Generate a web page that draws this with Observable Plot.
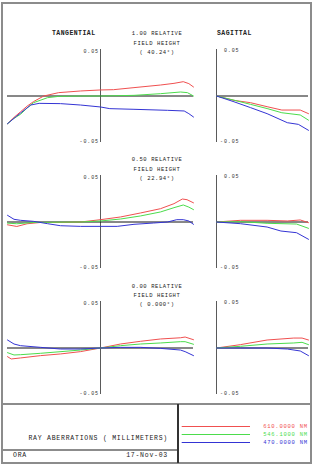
<!DOCTYPE html>
<html>
<head>
<meta charset="utf-8">
<script src="https://cdn.jsdelivr.net/npm/d3@7"></script>
<script src="https://cdn.jsdelivr.net/npm/@observablehq/plot@0.6"></script>
<style>
  body { margin: 0; background: #fff; }
  #page { position: relative; width: 313px; height: 476px; overflow: hidden;
          font-family: "Liberation Mono", "DejaVu Sans Mono", monospace; color: #222; }
  .box { position: absolute; box-sizing: border-box; }
  .lbl { position: absolute; white-space: nowrap; line-height: 1; }
  .panel text { letter-spacing: 0.9px; }
  .legend text { letter-spacing: 0.75px; }
</style>
</head>
<body>
<div id="page"></div>
<script>
// Wavelengths and their plotting colours
const wavelengths = ["610.0000 NM", "546.1000 NM", "470.0000 NM"];
const waveColors = ["#f05050", "#4cdc4c", "#3434d4"];

// Field points
const fieldRelative = ["1.00", "0.50", "0.00"];
const fieldAngle = ["40.24", "22.94", "0.000"];

// Vertical scale tick labels (mm)
const yTicks = [0.05, -0.05];
const yTickLabels = ["0.05", "-0.05"];

// Tangential ray fans: [relative pupil coordinate, transverse ray error in mm]
const tan100Red = [[-1,-0.0298],[-0.93,-0.023],[-0.86,-0.017],[-0.79,-0.011],[-0.72,-0.006],[-0.61,0],[-0.45,0.0036],[-0.215,0.0054],[0,0.0065],[0.14,0.0068],[0.36,0.009],[0.645,0.0118],[0.79,0.0136],[0.89,0.0154],[0.95,0.0133],[1,0.0097]];
const tan100Green = [[-1,-0.0298],[-0.93,-0.024],[-0.86,-0.0197],[-0.79,-0.013],[-0.72,-0.0072],[-0.57,-0.0018],[-0.45,-0.0004],[-0.2,0],[0,0],[0.36,0.0007],[0.645,0.0025],[0.86,0.0043],[0.935,0.0036],[1,0]];
const tan100Blue = [[-1,-0.0298],[-0.9,-0.0215],[-0.75,-0.0097],[-0.66,-0.0079],[-0.43,-0.0082],[-0.215,-0.0097],[0,-0.0118],[0.1,-0.0136],[0.36,-0.0143],[0.72,-0.0154],[0.9,-0.0161],[0.95,-0.019],[1,-0.0226]];

const tan050Red = [[-1,-0.003],[-0.9,-0.0048],[-0.79,-0.0019],[-0.645,-0.0005],[-0.43,-0.0005],[-0.215,0],[0,0.0025],[0.215,0.0054],[0.43,0.0097],[0.645,0.0143],[0.79,0.0197],[0.88,0.0247],[0.93,0.024],[1,0.0206]];
const tan050Green = [[-1,-0.0012],[-0.9,-0.0019],[-0.72,-0.0005],[-0.215,0],[0,0.0011],[0.215,0.0032],[0.43,0.0065],[0.645,0.0108],[0.79,0.0154],[0.89,0.0183],[0.95,0.016],[1,0.0133]];
const tan050Blue = [[-1,0.0072],[-0.93,0.0029],[-0.86,0.0018],[-0.72,0.0007],[-0.57,-0.0018],[-0.43,-0.004],[-0.215,-0.0047],[0,-0.0047],[0.18,-0.0047],[0.36,-0.0025],[0.57,-0.0011],[0.72,0],[0.82,0.0025],[0.89,0.0025],[0.95,0.0011],[1,-0.0025]];

const tan000Red = [[-1,-0.0093],[-0.96,-0.0118],[-0.86,-0.0107],[-0.645,-0.0082],[-0.43,-0.0064],[-0.215,-0.0039],[0,0],[0.215,0.0043],[0.43,0.0072],[0.645,0.0097],[0.86,0.011],[0.91,0.0118],[1,0.0089]];
const tan000Green = [[-1,-0.005],[-0.93,-0.0075],[-0.86,-0.0072],[-0.645,-0.0057],[-0.215,-0.0022],[0,0],[0.215,0.0025],[0.43,0.0043],[0.645,0.0054],[0.86,0.0068],[0.91,0.0068],[1,0.004]];
const tan000Blue = [[-1,0.0086],[-0.93,0.0043],[-0.86,0.0025],[-0.645,0.0007],[-0.43,-0.0011],[-0.215,-0.0011],[0,0],[0.215,0.0007],[0.43,0.0007],[0.645,-0.0004],[0.86,-0.0022],[0.91,-0.0039],[1,-0.0082]];

// Sagittal ray fans: [relative pupil coordinate, transverse ray error in mm]
const sag100Red = [[0,0],[0.19,-0.0047],[0.37,-0.0072],[0.55,-0.0115],[0.71,-0.0151],[0.91,-0.0151],[1,-0.019]];
const sag100Green = [[0,0],[0.19,-0.0045],[0.37,-0.009],[0.55,-0.0135],[0.71,-0.018],[0.91,-0.0204],[1,-0.026]];
const sag100Blue = [[0,0],[0.19,-0.0062],[0.37,-0.0125],[0.55,-0.019],[0.77,-0.0287],[0.89,-0.0305],[1,-0.0369]];

const sag050Red = [[0,0],[0.26,0.0018],[0.55,0.0018],[0.77,0.0011],[0.91,0.0022],[1,-0.0007]];
const sag050Green = [[0,0],[0.26,0.0004],[0.55,-0.0014],[0.87,-0.0022],[1,-0.0068]];
const sag050Blue = [[0,0],[0.26,-0.0018],[0.55,-0.0054],[0.7,-0.0097],[0.87,-0.0115],[1,-0.0186]];

const sag000Red = [[0,0],[0.26,0.0036],[0.55,0.0086],[0.84,0.0107],[0.93,0.0107],[1,0.0086]];
const sag000Green = [[0,0],[0.26,0.0018],[0.55,0.0043],[0.84,0.0054],[0.93,0.0061],[1,0.0036]];
const sag000Blue = [[0,0],[0.26,0],[0.55,0],[0.77,-0.0011],[0.91,-0.0032],[1,-0.0082]];

const tangentialFans = [
  [tan100Red, tan100Green, tan100Blue],
  [tan050Red, tan050Green, tan050Blue],
  [tan000Red, tan000Green, tan000Blue]
];
const sagittalFans = [
  [sag100Red, sag100Green, sag100Blue],
  [sag050Red, sag050Green, sag050Blue],
  [sag000Red, sag000Green, sag000Blue]
];

const page = document.getElementById("page");
const FONT = '"Liberation Mono", "DejaVu Sans Mono", monospace';

function box(left, top, width, height, css) {
  const d = document.createElement("div");
  d.className = "box";
  Object.assign(d.style, { left: left + "px", top: top + "px", width: width + "px", height: height + "px" }, css);
  page.appendChild(d);
}

function label(text, x, y, anchor, size, extra = {}) {
  const d = document.createElement("div");
  d.className = "lbl";
  d.textContent = text;
  const tx = anchor === "middle" ? "-50%" : anchor === "end" ? "-100%" : "0";
  Object.assign(d.style, {
    left: x + "px", top: y + "px", fontSize: size + "px",
    transform: `translate(${tx}, -50%)`
  }, extra);
  page.appendChild(d);
}

// One ray-fan panel: pupil coordinate across, ray error up
function fan(curves, sagittal) {
  const rows = curves.flatMap((c, i) => c.map(([p, e]) => ({ p, e, w: wavelengths[i] })));
  const tickOpts = {
    x: 0, y: d => d, text: d => yTickLabels[yTicks.indexOf(d)],
    textAnchor: "end", dx: sagittal ? 23 : -1.5,
    fontSize: 5, fontFamily: FONT, fill: "#333"
  };
  return Plot.plot({
    width: sagittal ? 92 : 186,
    height: 93,
    margin: 0,
    className: "panel",
    style: { overflow: "visible", background: "transparent", fontFamily: FONT },
    x: { domain: sagittal ? [0, 1] : [-1, 1], axis: null },
    y: { domain: [-0.05, 0.05], axis: null },
    color: { domain: wavelengths, range: waveColors },
    marks: [
      Plot.ruleX([0], { stroke: "#5a5a5a", strokeWidth: 1 }),
      Plot.ruleY([0], { stroke: "#111", strokeWidth: 1 }),
      Plot.line(rows, { x: "p", y: "e", z: "w", stroke: "w", strokeWidth: 1 }),
      Plot.text([yTicks[0]], { ...tickOpts, lineAnchor: "top", dy: sagittal ? -1 : 0 }),
      Plot.text([yTicks[1]], { ...tickOpts, lineAnchor: "middle", dy: -1.5 })
    ]
  });
}

function place(el, left, top) {
  el.style.position = "absolute";
  el.style.left = left + "px";
  el.style.top = top + "px";
  page.appendChild(el);
}

// Outer frame and footer rules
box(1, 2, 311, 462, { border: "2px solid #8c8c8c" });
box(1, 403, 311, 2, { background: "#8c8c8c" });
box(1, 449, 177, 2, { background: "#8c8c8c" });
box(177, 404, 1.5, 59, { background: "#333" });

// Column headings
label("TANGENTIAL", 52, 34.3, "start", 6.5, { fontWeight: "bold", letterSpacing: "0.45px", color: "#222" });
label("SAGITTAL", 217, 34.3, "start", 6.5, { fontWeight: "bold", letterSpacing: "0.45px", color: "#222" });

const centers = [95, 221, 347.5];
centers.forEach((c, i) => {
  place(fan(tangentialFans[i], false), 7, c - 46.5);
  place(fan(sagittalFans[i], true), 216, c - 46.5);
  const s = { letterSpacing: "0.6px", color: "#222" };
  label(`${fieldRelative[i]} RELATIVE`, 157, c - 60.6, "middle", 5.5, s);
  label("FIELD HEIGHT", 157, c - 51.4, "middle", 5.5, s);
  label(`( ${fieldAngle[i]}°)`, 157, c - 42.1, "middle", 5.5, s);
});

// Footer texts
const fs = { letterSpacing: "0.75px", color: "#222" };
label("RAY ABERRATIONS ( MILLIMETERS)", 168, 438.5, "end", 6.5, fs);
label("ORA", 13, 456, "start", 6.5, fs);
label("17-Nov-03", 168, 456, "end", 6.5, fs);

// Wavelength legend
const legend = Plot.plot({
  width: 133,
  height: 59,
  margin: 0,
  className: "legend",
  style: { overflow: "visible", background: "transparent", fontFamily: FONT },
  x: { domain: [0, 1], range: [3.7, 72], axis: null },
  y: { type: "point", domain: wavelengths, range: [21, 38.5], padding: 0, axis: null },
  color: { domain: wavelengths, range: waveColors },
  marks: [
    Plot.ruleY(wavelengths, { y: d => d, x1: 0, x2: 1, stroke: d => d, strokeWidth: 1 }),
    Plot.text(wavelengths, { x: 1, y: d => d, text: d => d, fill: d => d, textAnchor: "start", dx: 12.7, fontSize: 5.5, fontFamily: FONT })
  ]
});
place(legend, 178, 404);
</script>
</body>
</html>
